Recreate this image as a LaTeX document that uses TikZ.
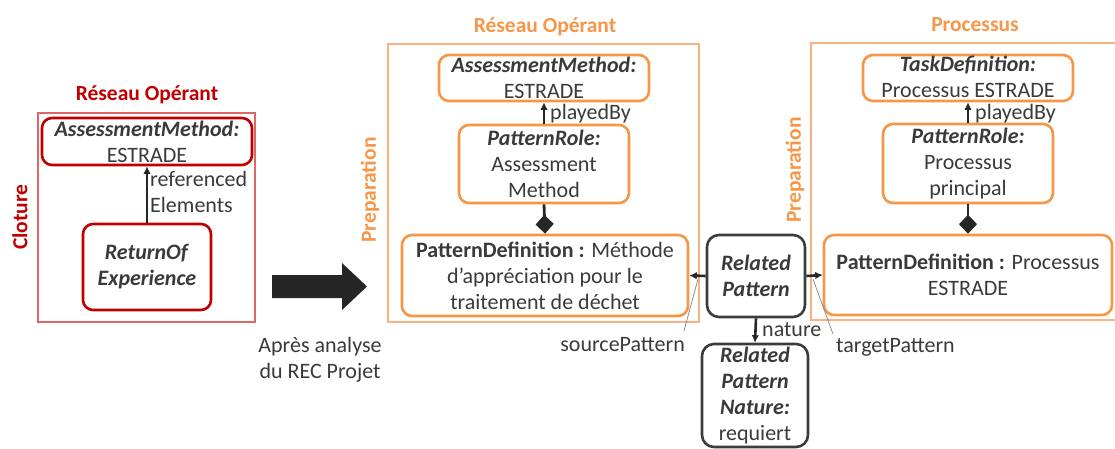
\documentclass[tikz,border=0pt]{standalone}
\usepackage{fontspec}
\setmainfont{Carlito}
\usetikzlibrary{arrows.meta}
\definecolor{txt}{HTML}{3A3A3A}
\definecolor{myred}{HTML}{C00000}
\definecolor{redframe}{HTML}{E06666}
\definecolor{myorange}{HTML}{F79646}
\definecolor{orframe}{HTML}{F9B382}
\definecolor{dk}{HTML}{262626}
\tikzset{
  base/.style={font=\fontsize{22}{26}\selectfont, text=txt, align=center, inner sep=0pt},
  rbox/.style={base, draw=myred, line width=2.6pt, rounded corners=10pt},
  obox/.style={base, draw=myorange, line width=2.6pt, rounded corners=10pt},
  kbox/.style={base, draw=dk!90, line width=2.6pt, rounded corners=12pt},
  lbl/.style={base},
  ttl/.style={font=\fontsize{21.5}{25}\selectfont\bfseries, inner sep=0pt},
  arr/.style={draw=dk, line width=2.6pt, -{Latex[length=7.5pt,width=7.5pt]}},
  comp/.style={draw=dk, line width=2.8pt, -{Diamond[length=19pt,width=18pt,fill=dk]}},
  leader/.style={draw=gray, line width=0.7pt},
}
\newcommand{\bi}[1]{\textbf{\textit{#1}}}
\begin{document}
\begin{tikzpicture}[x=1pt,y=-1pt]
\useasboundingbox (0,0) rectangle (1115,449);
% frames
\draw[redframe, line width=1.1pt] (38,113) rectangle (255,322);
\draw[orframe, line width=1.2pt] (388,44) rectangle (699,322);
\draw[orframe, line width=1.2pt] (1120,43) -- (811,43) -- (811,320) -- (1120,320);
% titles
\node[ttl, text=myred] (t1) at (147,95) {Réseau Opérant};
\node[ttl, text=myred, rotate=90] (c1) at (20,217) {Cloture};
\node[ttl, text=myorange] (t2) at (545,27) {Réseau Opérant};
\node[ttl, text=myorange] (t3) at (975,25) {Processus};
\node[ttl, text=myorange, rotate=90] (p1) at (370,190) {Preparation};
\node[ttl, text=myorange, rotate=90] (p2) at (795,170) {Preparation};
% left
\node[rbox, minimum width=210, minimum height=47] (am1) at (147,141.5) {\bi{AssessmentMethod:}\\ESTRADE};
\node[rbox, minimum width=128, minimum height=86] (ret) at (147,267) {\bi{ReturnOf}\\\bi{Experience}};
\draw[arr] (ret.north) -- (am1.south);
\node[lbl, align=left, anchor=north west] (refl) at (150,171) {referenced\\Elements};
% big arrow
\fill[dk] (272,275) -- (342,275) -- (342,263) -- (367,286.5) -- (342,310) -- (342,298) -- (272,298) -- cycle;
\node[lbl] (apres) at (320,360) {Après analyse\\du REC Projet};
% middle
\node[obox, minimum width=210, minimum height=46] (am2) at (544,78) {\bi{AssessmentMethod:}\\ESTRADE};
\node[obox, minimum width=170, minimum height=78] (pr2) at (544,164) {\bi{PatternRole:}\\Assessment\\Method};
\node[obox, minimum width=286, minimum height=81] (pd2) at (545,275.5) {\textbf{PatternDefinition :} Méthode\\d’appréciation pour le\\traitement de déchet};
\draw[arr] (pr2.north) -- (am2.south);
\node[lbl, anchor=west] (pb2) at (550,114) {playedBy};
\draw[comp] (pr2.south) -- (pd2.north);
% right
\node[obox, minimum width=210, minimum height=46] (td) at (968,78) {};
\node[lbl] (tdt) at (968,77) {\bi{TaskDefinition:}\\Processus ESTRADE};
\node[obox, minimum width=170, minimum height=79] (pr3) at (968,163.5) {\bi{PatternRole:}\\Processus\\principal};
\node[obox, minimum width=288, minimum height=80] (pd3) at (968,275) {\textbf{PatternDefinition :} Processus\\ESTRADE};
\draw[arr] (pr3.north) -- (td.south);
\node[lbl, anchor=west] (pb3) at (975,114) {playedBy};
\draw[comp] (pr3.south) -- (pd3.north);
% related pattern
\node[kbox, minimum width=98, minimum height=82] (rp) at (756,276) {\bi{Related}\\\bi{Pattern}};
\node[kbox, minimum width=106, minimum height=103] (rpn) at (755,395.5) {\bi{Related}\\\bi{Pattern}\\\bi{Nature:}\\requiert};
\draw[arr] (rp.west) -- (pd2.east);
\draw[arr] (rp.east) -- (pd3.west);
\draw[arr] (rp.south) -- (rpn.north);
\node[lbl, anchor=west] (nat) at (762,330) {nature};
% leaders
\coordinate (s1) at (698,279);
\coordinate (t1c) at (813,279);
\node[lbl, anchor=east] (sp) at (685,345) {sourcePattern};
\node[lbl, anchor=west] (tp) at (836,347) {targetPattern};
\draw[leader] (s1) -- (684,331);
\draw[leader] (t1c) -- (833,334);
\end{tikzpicture}
\end{document}
